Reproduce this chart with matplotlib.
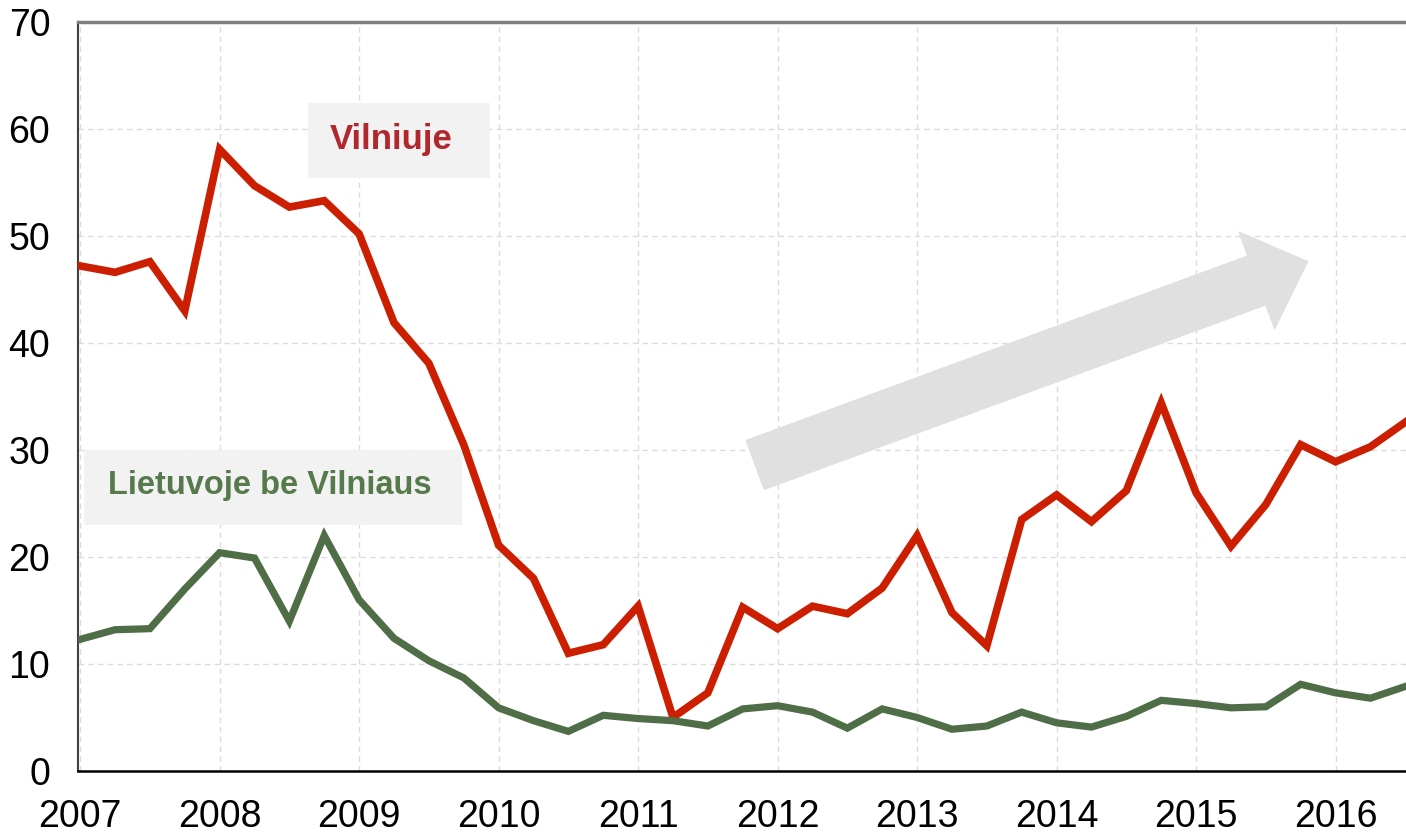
import numpy as np
import matplotlib
matplotlib.use("Agg")
from matplotlib import pyplot as plt
from matplotlib.patches import Rectangle

plt.rcParams['font.family'] = ['Liberation Sans', 'DejaVu Sans']

# quarterly data, 2007 Q1 .. 2016 Q3
start_year = 2007
vilnius = [47.2, 46.6, 47.6, 43.0, 58.1, 54.7, 52.7, 53.3, 50.2, 41.9,
           38.1, 30.5, 21.1, 18.0, 11.0, 11.8, 15.4, 5.0, 7.3, 15.3,
           13.3, 15.4, 14.7, 17.1, 22.0, 14.8, 11.7, 23.5, 25.8, 23.3,
           26.2, 34.4, 26.0, 21.0, 24.9, 30.5, 28.9, 30.3, 32.6]
other = [12.3, 13.2, 13.3, 17.0, 20.4, 19.9, 14.0, 22.0, 16.0, 12.4,
         10.3, 8.7, 5.9, 4.7, 3.7, 5.2, 4.9, 4.7, 4.2, 5.8,
         6.1, 5.5, 4.0, 5.8, 5.0, 3.9, 4.2, 5.5, 4.5, 4.1,
         5.1, 6.6, 6.3, 5.9, 6.0, 8.1, 7.3, 6.8, 7.9]
years = list(range(2007, 2017))
yticks = list(range(0, 71, 10))

x = start_year + np.arange(len(vilnius)) / 4.0

fig = plt.figure(figsize=(14.06, 8.36), dpi=100)
ax = fig.add_axes([0.0555, 0.0778, 0.9445, 0.8959])

ax.set_xlim(2006.985, 2016.505)
ax.set_ylim(0, 70)
ax.set_xticks(years)
ax.set_yticks(yticks)
ax.tick_params(length=0, labelsize=27)
ax.tick_params(axis='x', pad=20)
ax.tick_params(axis='y', pad=20)
ax.grid(True, color='#dcdcdc', linestyle=(0, (4, 3)), linewidth=1)
ax.set_axisbelow(True)

ax.spines['right'].set_visible(False)
ax.spines['top'].set_color('#7f7f7f')
ax.spines['top'].set_linewidth(2.5)
ax.spines['left'].set_color('#404040')
ax.spines['left'].set_linewidth(1.5)
ax.spines['bottom'].set_color('#000000')
ax.spines['bottom'].set_linewidth(1.8)

# trend arrow
ax.annotate('', xy=(2015.8, 47.6), xytext=(2011.84, 28.6),
            arrowprops=dict(arrowstyle='simple,head_length=3.9,head_width=7.4,tail_width=3.75',
                            mutation_scale=10, color='#e0e0e0', shrinkA=0, shrinkB=0),
            zorder=1)

ax.plot(x, vilnius, color='#cc1e00', linewidth=5.5, solid_joinstyle='miter', zorder=3)
ax.plot(x, other, color='#4f6e47', linewidth=5.2, solid_joinstyle='miter', zorder=3)

# label boxes
ax.add_patch(Rectangle((0.1732, 0.7917), 0.137, 0.1001, transform=ax.transAxes,
                       facecolor='#f2f2f2', edgecolor='none', zorder=4))
ax.text(0.2357, 0.843, 'Vilniuje', transform=ax.transAxes, ha='center', va='center',
        fontsize=25, fontweight='bold', color='#b0282e', zorder=5)

ax.add_patch(Rectangle((0.0045, 0.3284), 0.2846, 0.1001, transform=ax.transAxes,
                       facecolor='#f2f2f2', edgecolor='none', zorder=4))
ax.text(0.1445, 0.381, 'Lietuvoje be Vilniaus', transform=ax.transAxes, ha='center', va='center',
        fontsize=23.5, fontweight='bold', color='#567a4c', zorder=5)

fig.savefig('out.png', dpi=100)
